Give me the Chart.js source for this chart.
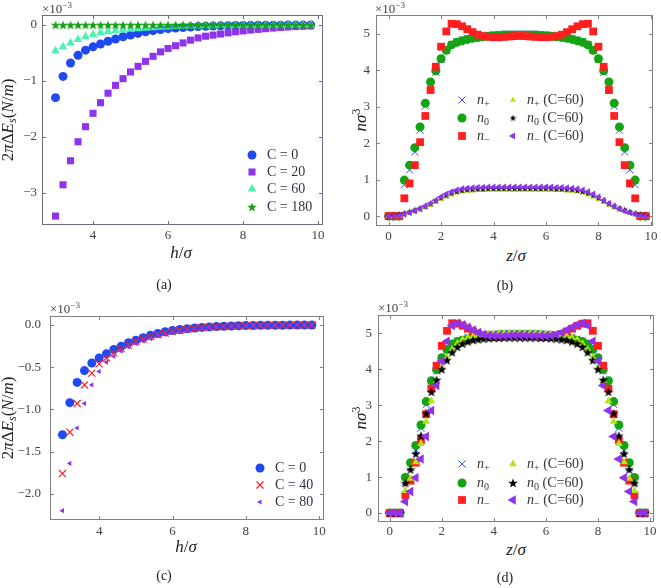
<!DOCTYPE html>
<html>
<head>
<meta charset="utf-8">
<script src="https://cdn.jsdelivr.net/npm/chart.js@4.4.0/dist/chart.umd.min.js"></script>
<style>
  body { margin: 0; background: #fff; width: 661px; height: 588px; position: relative; overflow: hidden;
         font-family: "Liberation Serif", "Times New Roman", serif; color: #222; }
  canvas { position: absolute; }
  .t { position: absolute; white-space: nowrap; transform: translate(-50%, -50%); font-size: 17px; line-height: 20px; }
  .yl { transform: translate(-50%, -50%) rotate(-90deg); }
  .cap { font-size: 14px; }
  .exp { position: absolute; font-size: 13px; color: #444; white-space: nowrap; line-height: 16px; }
  .exp span { font-size: 9px; position: relative; top: -5px; }
  sub { font-size: 70%; vertical-align: -3px; }
  sup { font-size: 70%; vertical-align: 6px; }
</style>
</head>
<body>
<canvas id="ca" width="330" height="245" style="left:0;top:0"></canvas>
<canvas id="cb" width="331" height="245" style="left:330px;top:0"></canvas>
<canvas id="cc" width="330" height="245" style="left:0;top:295px"></canvas>
<canvas id="cd" width="331" height="245" style="left:330px;top:295px"></canvas>

<div class="exp" style="left:42px;top:1px">×10<span>−3</span></div>
<div class="exp" style="left:375px;top:1px">×10<span>−3</span></div>
<div class="exp" style="left:50px;top:301px">×10<span>−3</span></div>
<div class="exp" style="left:378px;top:300px">×10<span>−3</span></div>

<div class="t yl" style="left:10px;top:120px">2<i>π</i>Δ<i>E<sub>s</sub></i>(<i>N</i>/<i>m</i>)</div>
<div class="t yl" style="left:10px;top:418px">2<i>π</i>Δ<i>E<sub>s</sub></i>(<i>N</i>/<i>m</i>)</div>
<div class="t yl" style="left:358px;top:120px"><i>nσ</i><sup>3</sup></div>
<div class="t yl" style="left:358px;top:418px"><i>nσ</i><sup>3</sup></div>

<div class="t" style="left:181px;top:253px"><i>h</i>/<i>σ</i></div>
<div class="t" style="left:186px;top:547px"><i>h</i>/<i>σ</i></div>
<div class="t" style="left:516px;top:256px"><i>z</i>/<i>σ</i></div>
<div class="t" style="left:516px;top:550px"><i>z</i>/<i>σ</i></div>

<div class="t cap" style="left:164px;top:285px">(a)</div>
<div class="t cap" style="left:505px;top:286px">(b)</div>
<div class="t cap" style="left:164px;top:576px">(c)</div>
<div class="t cap" style="left:505px;top:578px">(d)</div>

<script>
// ---- data ----
const hSep = [3.0,3.2,3.4,3.6,3.8,4.0,4.2,4.4,4.6,4.8,5.0,5.2,5.4,5.6,5.8,6.0,6.2,6.4,6.6,6.8,
              7.0,7.2,7.4,7.6,7.8,8.0,8.2,8.4,8.6,8.8,9.0,9.2,9.4,9.6,9.8];

// surface energy, units of 1e-3 N/m
const eC0 = [-1.30,-0.92,-0.68,-0.54,-0.45,-0.39,-0.34,-0.29,-0.25,-0.21,-0.18,-0.15,-0.12,-0.10,-0.08,
             -0.065,-0.053,-0.043,-0.035,-0.028,-0.022,-0.018,-0.014,-0.011,-0.009,-0.007,-0.005,-0.004,
             -0.003,-0.002,-0.002,-0.001,-0.001,-0.001,0];
const eC20 = [-3.42,-2.86,-2.43,-2.09,-1.82,-1.58,-1.39,-1.22,-1.08,-0.96,-0.84,-0.74,-0.65,-0.56,-0.48,
              -0.42,-0.37,-0.32,-0.27,-0.23,-0.20,-0.18,-0.16,-0.14,-0.12,-0.105,-0.09,-0.077,-0.065,
              -0.054,-0.044,-0.035,-0.027,-0.02,-0.014];
const eC60 = [-0.46,-0.39,-0.32,-0.26,-0.21,-0.17,-0.14,-0.12,-0.10,-0.09,-0.077,-0.066,-0.056,-0.047,
              -0.04,-0.034,-0.028,-0.023,-0.019,-0.016,-0.013,-0.011,-0.009,-0.007,-0.006,-0.005,-0.004,
              -0.003,-0.003,-0.002,-0.002,-0.001,-0.001,-0.001,0];
const eC180 = [0,0,0,0,0,0,0,0,0,0,0,0,0,0,0,0,0,0,0,0,0,0,0,0,0,0,0,0,0,0,0,0,0,0,0];
const eC40 = [-1.76,-1.27,-0.93,-0.71,-0.57,-0.46,-0.39,-0.33,-0.28,-0.24,-0.20,-0.17,-0.14,-0.115,
              -0.095,-0.077,-0.062,-0.05,-0.04,-0.032,-0.026,-0.021,-0.017,-0.013,-0.010,-0.008,-0.006,
              -0.005,-0.004,-0.003,-0.002,-0.002,-0.001,-0.001,0];
const eC80 = [-2.20,-1.64,-1.22,-0.93,-0.71,-0.55,-0.44,-0.37,-0.31,-0.26,-0.22,-0.19,-0.16,-0.13,-0.11,
              -0.09,-0.073,-0.059,-0.047,-0.038,-0.03,-0.024,-0.019,-0.015,-0.012,-0.009,-0.007,-0.005,
              -0.004,-0.003,-0.002,-0.002,-0.001,-0.001,0];

const zPos = [0,0.2,0.4,0.6,0.8,1.0,1.2,1.4,1.6,1.8,2.0,2.2,2.4,2.6,2.8,3.0,3.2,3.4,3.6,3.8,
              4.0,4.2,4.4,4.6,4.8,5.0,5.2,5.4,5.6,5.8,6.0,6.2,6.4,6.6,6.8,7.0,7.2,7.4,7.6,7.8,
              8.0,8.2,8.4,8.6,8.8,9.0,9.2,9.4,9.6,9.8];

// densities, units of 1e-3
const nPlus = [0,0,0,0.86,1.27,1.76,2.36,3.02,3.62,3.95,4.30,4.55,4.71,4.79,4.84,4.88,4.91,4.93,4.95,4.97,
               4.98,4.99,5.00,5.00,5.00,5.00,5.00,5.00,5.00,4.99,4.98,4.97,4.95,4.93,4.91,4.88,4.84,4.79,
               4.71,4.55,4.30,3.95,3.62,3.02,2.36,1.76,1.27,0.86,0,0];
const nZero = [0,0,0,0.99,1.40,1.88,2.45,3.10,3.68,3.99,4.32,4.55,4.70,4.77,4.81,4.85,4.88,4.90,4.92,4.94,
               4.95,4.96,4.97,4.97,4.97,4.97,4.97,4.97,4.97,4.96,4.95,4.94,4.92,4.90,4.88,4.85,4.81,4.77,
               4.70,4.55,4.32,3.99,3.68,3.10,2.45,1.88,1.40,0.99,0,0];
const nMinus = [0,0,0,0.49,0.90,1.40,2.03,2.75,3.46,4.10,4.65,5.07,5.28,5.27,5.21,5.13,5.05,4.98,4.94,4.92,
                4.91,4.91,4.92,4.93,4.94,4.95,4.94,4.93,4.92,4.91,4.91,4.92,4.94,4.98,5.05,5.13,5.21,5.27,
                5.28,5.07,4.65,4.10,3.46,2.75,2.03,1.40,0.90,0.49,0,0];

const bPlus60 = [-0.01,-0.01,0.01,0.04,0.08,0.12,0.17,0.23,0.30,0.38,0.46,0.53,0.59,0.64,0.67,0.69,0.70,0.71,
                 0.71,0.72,0.72,0.72,0.72,0.72,0.72,0.72,0.72,0.72,0.72,0.72,0.72,0.72,0.71,0.71,0.70,0.69,
                 0.67,0.64,0.59,0.53,0.46,0.38,0.30,0.23,0.17,0.12,0.08,0.04,0.01,-0.01];
const bZero60 = [0,0.01,0.04,0.08,0.12,0.17,0.22,0.28,0.35,0.43,0.51,0.58,0.64,0.68,0.71,0.73,0.74,0.75,
                 0.75,0.76,0.76,0.76,0.76,0.76,0.76,0.76,0.76,0.76,0.76,0.76,0.76,0.76,0.75,0.75,0.74,0.73,
                 0.71,0.68,0.64,0.58,0.51,0.43,0.35,0.28,0.22,0.17,0.12,0.08,0.04,0.01];
const bMinus60 = [0,0,0.02,0.05,0.09,0.14,0.20,0.27,0.35,0.44,0.53,0.61,0.67,0.72,0.75,0.77,0.78,0.79,
                  0.79,0.80,0.80,0.80,0.80,0.80,0.80,0.80,0.80,0.80,0.80,0.80,0.80,0.80,0.79,0.79,0.78,0.77,
                  0.75,0.72,0.67,0.61,0.53,0.44,0.35,0.27,0.20,0.14,0.09,0.05,0.02,0];

const dPlus60 = [0,0,0,0.62,0.96,1.42,1.93,2.55,3.12,3.68,4.05,4.33,4.55,4.72,4.82,4.88,4.92,4.95,4.97,4.98,
                 4.99,5.00,5.00,5.00,5.00,5.00,5.00,5.00,5.00,5.00,4.99,4.98,4.97,4.95,4.92,4.88,4.82,4.72,
                 4.55,4.33,4.05,3.68,3.12,2.55,1.93,1.42,0.96,0.62,0,0];
const dZero60 = [0,0,0,0.83,1.21,1.65,2.15,2.77,3.37,3.70,4.00,4.25,4.47,4.62,4.71,4.77,4.81,4.83,4.85,4.86,
                 4.87,4.87,4.88,4.88,4.88,4.88,4.88,4.88,4.88,4.87,4.87,4.86,4.85,4.83,4.81,4.77,4.71,4.62,
                 4.47,4.25,4.00,3.70,3.37,2.77,2.15,1.65,1.21,0.83,0,0];
const dMinus60 = [0,0,0,0.32,0.60,0.98,1.50,2.13,2.85,3.55,4.23,4.78,5.22,5.28,5.24,5.17,5.09,5.02,4.97,4.94,
                  4.93,4.93,4.93,4.94,4.95,4.95,4.95,4.94,4.93,4.93,4.93,4.94,4.97,5.02,5.09,5.17,5.24,5.28,
                  5.22,4.78,4.23,3.55,2.85,2.13,1.50,0.98,0.60,0.32,0,0];

// ticks
const hTicks = [4, 6, 8, 10];
const hTickLabels = ['4', '6', '8', '10'];
const zTicks = [0, 2, 4, 6, 8, 10];
const zTickLabels = ['0', '2', '4', '6', '8', '10'];
const aYTicks = [0, -1, -2, -3];
const aYTickLabels = ['0', '−1', '−2', '−3'];
const cYTicks = [0, -0.5, -1, -1.5, -2];
const cYTickLabels = ['0.0', '−0.5', '−1.0', '−1.5', '−2.0'];
const nYTicks = [0, 1, 2, 3, 4, 5];
const nYTickLabels = ['0', '1', '2', '3', '4', '5'];

const FAMILY = '"Liberation Serif", "Times New Roman", serif';

// ---- helpers ----
function makeStar(size, color) {
  const c = document.createElement('canvas');
  c.width = size; c.height = size;
  const g = c.getContext('2d');
  const R = size / 2, r = R * 0.42, cx = size / 2, cy = size / 2 + R * 0.08;
  g.fillStyle = color;
  g.beginPath();
  for (let k = 0; k < 10; k++) {
    const ang = -Math.PI / 2 + k * Math.PI / 5;
    const rr = k % 2 ? r : R;
    g.lineTo(cx + rr * Math.cos(ang), cy + rr * Math.sin(ang));
  }
  g.closePath();
  g.fill();
  return c;
}

function series(xs, ys, st, order) {
  return {
    data: xs.map((x, i) => ({ x: x, y: ys[i] })),
    showLine: false,
    order: order,
    pointStyle: st.style,
    pointRadius: st.r,
    pointHoverRadius: st.r,
    pointRotation: st.rot || 0,
    pointBackgroundColor: st.fill || 'rgba(0,0,0,0)',
    pointBorderColor: st.line || st.fill,
    pointBorderWidth: st.bw || 0
  };
}

function richText(ctx, parts, x, y, size) {
  parts.forEach(p => {
    const fs = p.sub ? size * 0.72 : size;
    ctx.font = (p.it ? 'italic ' : '') + fs + 'px ' + FAMILY;
    ctx.fillText(p.t, x, y + (p.sub ? size * 0.28 : 0));
    x += ctx.measureText(p.t).width;
  });
}

// legend / frame settings per canvas
const frameColor = { ca: '#6c6c88', cb: '#808080', cc: '#808080', cd: '#808080' };

const nPlusLbl = [{ t: 'n', it: 1 }, { t: '+', sub: 1 }];
const nZeroLbl = [{ t: 'n', it: 1 }, { t: '0', sub: 1 }];
const nMinusLbl = [{ t: 'n', it: 1 }, { t: '−', sub: 1 }];
const c60 = { t: ' (C=60)' };
const densLegend = (cols, rows) => ({
  right: false, cols: cols, rows: rows, color: '#333', size: 14,
  items: [
    { ds: 0, col: 0, row: 0, label: nPlusLbl },
    { ds: 1, col: 0, row: 1, label: nZeroLbl },
    { ds: 2, col: 0, row: 2, label: nMinusLbl },
    { ds: 3, col: 1, row: 0, label: nPlusLbl.concat([c60]) },
    { ds: 4, col: 1, row: 1, label: nZeroLbl.concat([c60]) },
    { ds: 5, col: 1, row: 2, label: nMinusLbl.concat([c60]) }
  ]
});

const legends = {
  ca: { right: true, cols: [[-71, -56]], rows: [-70, -53, -36, -18], color: '#334', size: 14,
        items: [
          { ds: 0, col: 0, row: 0, label: [{ t: 'C = 0' }] },
          { ds: 1, col: 0, row: 1, label: [{ t: 'C = 20' }] },
          { ds: 2, col: 0, row: 2, label: [{ t: 'C = 60' }] },
          { ds: 3, col: 0, row: 3, label: [{ t: 'C = 180' }] }
        ] },
  cc: { right: true, cols: [[-64, -49]], rows: [-52, -35, -18], color: '#334', size: 14,
        items: [
          { ds: 0, col: 0, row: 0, label: [{ t: 'C = 0' }] },
          { ds: 1, col: 0, row: 1, label: [{ t: 'C = 40' }] },
          { ds: 2, col: 0, row: 2, label: [{ t: 'C = 80' }] }
        ] },
  cb: densLegend([[86, 101], [137, 151]], [85, 103, 121]),
  cd: densLegend([[84, 99], [135, 149]], [149, 168, 185])
};

const framePlugin = {
  id: 'frameTicks',
  afterDatasetsDraw(chart) {
    const { ctx, chartArea: a, scales } = chart;
    const L = 4;
    ctx.save();
    ctx.strokeStyle = frameColor[chart.canvas.id];
    ctx.lineWidth = 1;
    ctx.strokeRect(a.left + 0.5, a.top + 0.5, a.right - a.left - 1, a.bottom - a.top - 1);
    ctx.beginPath();
    scales.x.ticks.forEach(t => {
      const px = Math.round(scales.x.getPixelForValue(t.value)) + 0.5;
      ctx.moveTo(px, a.bottom); ctx.lineTo(px, a.bottom - L);
      ctx.moveTo(px, a.top); ctx.lineTo(px, a.top + L);
    });
    scales.y.ticks.forEach(t => {
      const py = Math.round(scales.y.getPixelForValue(t.value)) + 0.5;
      ctx.moveTo(a.left, py); ctx.lineTo(a.left + L, py);
      ctx.moveTo(a.right, py); ctx.lineTo(a.right - L, py);
    });
    ctx.stroke();
    ctx.restore();
  },
  afterDraw(chart) {
    const o = legends[chart.canvas.id];
    if (!o) return;
    const { ctx, chartArea: a } = chart;
    const ox = o.right ? a.right : a.left;
    const oy = o.right ? a.bottom : a.top;
    ctx.save();
    o.items.forEach(it => {
      const d = chart.data.datasets[it.ds];
      const mx = ox + o.cols[it.col][0], tx = ox + o.cols[it.col][1], y = oy + o.rows[it.row];
      ctx.fillStyle = d.pointBackgroundColor;
      ctx.strokeStyle = d.pointBorderColor;
      ctx.lineWidth = d.pointBorderWidth;
      Chart.helpers.drawPoint(ctx, { pointStyle: d.pointStyle, radius: d.pointRadius,
        rotation: d.pointRotation, borderWidth: d.pointBorderWidth }, mx, y);
      ctx.fillStyle = o.color;
      ctx.textBaseline = 'middle';
      ctx.textAlign = 'left';
      richText(ctx, it.label, tx, y, o.size);
    });
    ctx.restore();
  }
};

function makeChart(id, c) {
  const tickFont = { family: FAMILY, size: 13 };
  return new Chart(document.getElementById(id), {
    type: 'scatter',
    data: { datasets: c.datasets },
    options: {
      responsive: false,
      animation: false,
      events: [],
      layout: { padding: c.pad, autoPadding: false },
      plugins: { legend: { display: false }, tooltip: { enabled: false } },
      scales: {
        x: {
          type: 'linear', min: c.xr[0], max: c.xr[1],
          grid: { display: false, drawTicks: false }, border: { display: false },
          afterFit: s => { s.height = 16; },
          afterBuildTicks: s => { s.ticks = c.xt.map(v => ({ value: v })); },
          ticks: { padding: c.xpad, color: '#444', font: tickFont, maxRotation: 0, autoSkip: false,
                   callback: (v, i) => c.xl[i] }
        },
        y: {
          type: 'linear', min: c.yr[0], max: c.yr[1],
          grid: { display: false, drawTicks: false }, border: { display: false },
          afterFit: s => { s.width = 36; },
          afterBuildTicks: s => { s.ticks = c.yt.map(v => ({ value: v })); },
          ticks: { padding: c.ypad, color: '#444', font: tickFont, autoSkip: false,
                   callback: (v, i) => c.yl[i] }
        }
      }
    },
    plugins: [framePlugin]
  });
}

// marker colours
const blue = '#1f4af2', purple = '#8f33ee', aqua = '#4df2b0', starGreen = '#16a016';
const red = '#ff1f1f', green = '#13a313', crossBlue = '#3050ff', lime = '#b4e414';

const starA = makeStar(10, starGreen);
const starB = makeStar(7, '#000');
const starD = makeStar(10, '#000');

function densSets(p60, z60, m60, small) {
  return [
    series(zPos, nPlus, { style: 'crossRot', r: 5, line: crossBlue, bw: 1 }, 5),
    series(zPos, nZero, { style: 'circle', r: 4.5, fill: green }, 4),
    series(zPos, nMinus, { style: 'rect', r: 5.5, fill: red }, 3),
    series(zPos, p60, { style: 'triangle', r: small ? 3.5 : 4.5, fill: lime }, 2),
    series(zPos, z60, { style: small ? starB : starD, r: 4, fill: '#000' }, 1),
    series(zPos, m60, { style: 'triangle', r: small ? 4 : 5.5, rot: -90, fill: purple }, 0)
  ];
}

function drawAll() {
  // (a)
  makeChart('ca', {
    pad: { left: 6, top: 15, right: 7, bottom: 4 },
    xr: [2.64, 10.13], yr: [-3.58, 0.18],
    xt: hTicks, xl: hTickLabels, yt: aYTicks, yl: aYTickLabels, xpad: 3, ypad: 5,
    datasets: [
      series(hSep, eC0, { style: 'circle', r: 4.5, fill: blue }, 3),
      series(hSep, eC20, { style: 'rect', r: 5, fill: purple }, 2),
      series(hSep, eC60, { style: 'triangle', r: 5, fill: aqua }, 1),
      series(hSep, eC180, { style: starA, r: 4, fill: starGreen }, 0)
    ]
  });

  // (c)
  makeChart('cc', {
    pad: { left: 14, top: 21, right: 6, bottom: 4 },
    xr: [2.66, 10.13], yr: [-2.31, 0.107],
    xt: hTicks, xl: hTickLabels, yt: cYTicks, yl: cYTickLabels, xpad: 4, ypad: 9,
    datasets: [
      series(hSep, eC0, { style: 'circle', r: 4.5, fill: blue }, 2),
      series(hSep, eC40, { style: 'crossRot', r: 5, line: red, bw: 1.2 }, 1),
      series(hSep, eC80, { style: 'triangle', r: 3, rot: -90, fill: purple }, 0)
    ]
  });

  // (b)
  makeChart('cb', {
    pad: { left: 10, top: 15, right: 8, bottom: 3 },
    xr: [-0.48, 10.08], yr: [-0.27, 5.52],
    xt: zTicks, xl: zTickLabels, yt: nYTicks, yl: nYTickLabels, xpad: 3, ypad: 6,
    datasets: densSets(bPlus60, bZero60, bMinus60, true)
  });

  // (d)
  makeChart('cd', {
    pad: { left: 12, top: 20, right: 7, bottom: 2 },
    xr: [-0.45, 10.15], yr: [-0.25, 5.51],
    xt: zTicks, xl: zTickLabels, yt: nYTicks, yl: nYTickLabels, xpad: 2, ypad: 6,
    datasets: densSets(dPlus60, dZero60, dMinus60, false)
  });
}

// make sure the serif face is ready before the canvases use it
Promise.all([
  document.fonts.load('13px "Liberation Serif"'),
  document.fonts.load('italic 14px "Liberation Serif"')
]).then(drawAll, drawAll);
</script>
</body>
</html>
